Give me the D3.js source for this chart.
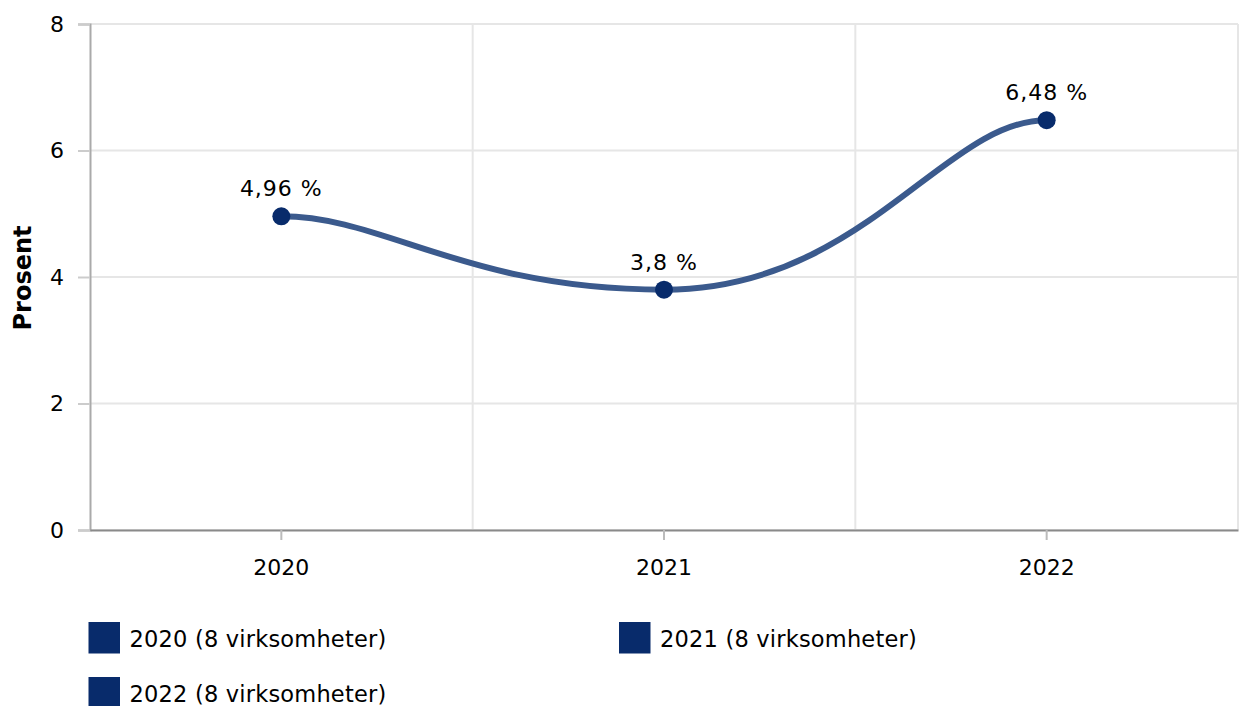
<!DOCTYPE html>
<html>
<head>
<meta charset="utf-8">
<script src="https://cdn.jsdelivr.net/npm/d3@7"></script>
<style>
  body { margin: 0; background: #fff; }
  svg text { font-family: "DejaVu Sans", Verdana, sans-serif; }
</style>
</head>
<body>
<div class="container"></div>
<script>
let years = ["2020", "2021", "2022"]
let values = [4.96, 3.8, 6.48]
let valueLabels = ["4,96 %", "3,8 %", "6,48 %"]
let yTicks = [0, 2, 4, 6, 8]
let legendLabels = ["2020 (8 virksomheter)", "2021 (8 virksomheter)", "2022 (8 virksomheter)"]

let width = 1240
let height = 706
let plotLeft = 90, plotRight = 1238, plotTop = 24, plotBottom = 530

let svg = d3.select(".container")
  .append("svg")
  .attr("width", width)
  .attr("height", height)

let x = d3.scaleBand().domain(years).range([plotLeft, plotRight])
let y = d3.scaleLinear().domain([0, 8]).range([plotBottom, plotTop])

// grid
svg.selectAll(".hgrid")
  .data(yTicks)
  .enter()
  .append("line")
  .attr("x1", plotLeft).attr("x2", plotRight)
  .attr("y1", d => y(d)).attr("y2", d => y(d))
  .attr("stroke", "#e6e6e6")
  .attr("stroke-width", 2)

let bounds = years.map(d => x(d)).concat([plotRight])
svg.selectAll(".vgrid")
  .data(bounds.slice(1))
  .enter()
  .append("line")
  .attr("x1", d => d).attr("x2", d => d)
  .attr("y1", plotTop).attr("y2", plotBottom)
  .attr("stroke", "#e6e6e6")
  .attr("stroke-width", 2)

// y axis
let yAxis = svg.append("g")
  .attr("transform", `translate(${plotLeft},0)`)
  .call(d3.axisLeft(y).tickValues(yTicks).tickSize(12).tickPadding(14))
yAxis.select(".domain").attr("stroke", "#aaaaaa").attr("stroke-width", 2)
yAxis.selectAll(".tick line").attr("stroke", "#cccccc").attr("stroke-width", 2)
yAxis.selectAll("text").attr("font-size", "22px").attr("fill", "#000")

// x axis
let xAxis = svg.append("g")
  .attr("transform", `translate(0,${plotBottom})`)
  .call(d3.axisBottom(x).tickSize(10).tickPadding(19).tickSizeOuter(0))
xAxis.select(".domain").attr("stroke", "#8a8a8a").attr("stroke-width", 2)
xAxis.selectAll(".tick line").attr("stroke", "#bbbbbb").attr("stroke-width", 2)
xAxis.selectAll("text").attr("font-size", "22px").attr("fill", "#000")

svg.append("text")
  .attr("transform", `translate(31,${(plotTop + plotBottom) / 2 + 1}) rotate(-90)`)
  .attr("text-anchor", "middle")
  .attr("font-size", "24px")
  .attr("font-weight", "bold")
  .text("Prosent")

// smooth line: horizontal tangent at turning points, short arms at the ends
let pts = years.map((d, i) => [x(d) + x.bandwidth() / 2, y(values[i])])

function smoothPath(p) {
  let endArm = 0.27, midArm = 0.52
  let slopes = p.map((q, i) => {
    if (i === 0 || i === p.length - 1) return 0
    let s0 = (q[1] - p[i - 1][1]) / (q[0] - p[i - 1][0])
    let s1 = (p[i + 1][1] - q[1]) / (p[i + 1][0] - q[0])
    return s0 * s1 <= 0 ? 0 : (s0 + s1) / 2
  })
  let path = d3.path()
  path.moveTo(p[0][0], p[0][1])
  for (let i = 1; i < p.length; i++) {
    let dx = p[i][0] - p[i - 1][0]
    let a = (i - 1 === 0 ? endArm : midArm) * dx
    let b = (i === p.length - 1 ? endArm : midArm) * dx
    path.bezierCurveTo(
      p[i - 1][0] + a, p[i - 1][1] + slopes[i - 1] * a,
      p[i][0] - b, p[i][1] - slopes[i] * b,
      p[i][0], p[i][1])
  }
  return path.toString()
}

svg.append("path")
  .attr("d", smoothPath(pts))
  .attr("fill", "none")
  .attr("stroke", "#3b5a8d")
  .attr("stroke-width", 6)
  .attr("stroke-linecap", "round")

svg.selectAll(".pt")
  .data(values)
  .enter()
  .append("circle")
  .attr("cx", (d, i) => x(years[i]) + x.bandwidth() / 2)
  .attr("cy", d => y(d))
  .attr("r", 9)
  .attr("fill", "#082b6b")

svg.selectAll(".lbl")
  .data(values)
  .enter()
  .append("text")
  .attr("x", (d, i) => x(years[i]) + x.bandwidth() / 2)
  .attr("y", d => y(d) - 20)
  .attr("text-anchor", "middle")
  .attr("font-size", "22px")
  .attr("letter-spacing", "1px")
  .attr("fill", "#000")
  .text((d, i) => valueLabels[i])

// legend
let legendPos = [[88.5, 622], [619, 622], [88.5, 677]]
let leg = svg.selectAll(".legend")
  .data(legendLabels)
  .enter()
  .append("g")
  .attr("transform", (d, i) => `translate(${legendPos[i][0]},${legendPos[i][1]})`)
leg.append("rect")
  .attr("width", 31.5).attr("height", 31.5)
  .attr("fill", "#082b6b")
leg.append("text")
  .attr("x", 41).attr("y", 25)
  .attr("font-size", "22.5px")
  .attr("letter-spacing", "0.2px")
  .attr("fill", "#000")
  .text(d => d)
</script>
</body>
</html>
